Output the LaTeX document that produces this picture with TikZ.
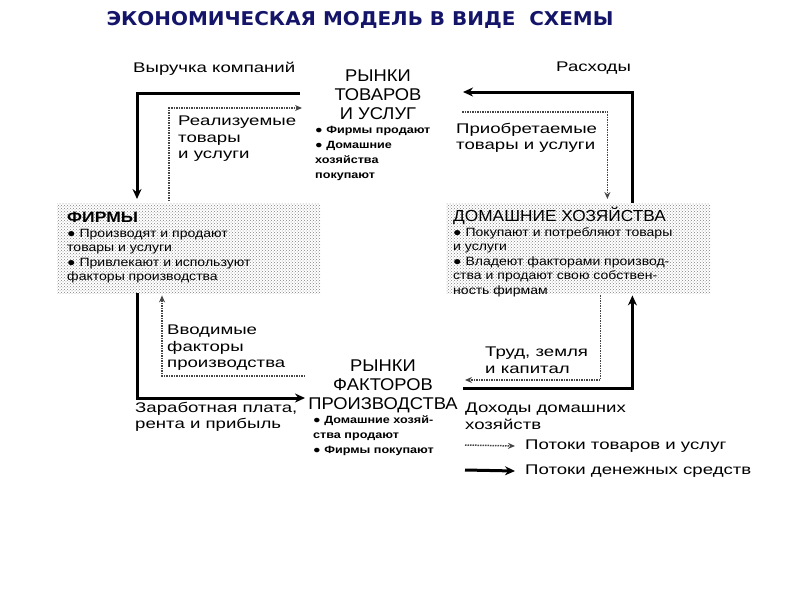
\documentclass[tikz,border=0pt]{standalone}
\usepackage{fontspec}
\setmainfont{Liberation Sans}
\newfontfamily\titlefont{DejaVu Sans}[FakeStretch=1.05]
\newfontfamily\lblfont{Liberation Sans}[FakeStretch=1.33]
\newfontfamily\mktfont{Liberation Sans}[FakeStretch=1.08]
\newfontfamily\notefont{Liberation Sans}[FakeStretch=1.2]
\newfontfamily\agfont{Liberation Sans}[FakeStretch=1.17]
\usetikzlibrary{positioning,calc,arrows.meta,patterns}
\definecolor{navy}{RGB}{20,20,105}
\tikzstyle{money}=[line width=3pt, -{Stealth[length=10pt,width=9pt]}]
\tikzstyle{goods}=[gray!55!black, densely dotted, line width=1.5pt, -{Stealth[length=7pt,width=6pt]}]
\tikzstyle{lbl}=[font=\lblfont\fontsize{14}{16.5}\selectfont, align=left, inner sep=0pt, anchor=north west]
\tikzstyle{mkt}=[font=\mktfont\fontsize{17}{19}\selectfont, align=center, inner sep=0pt]
\tikzstyle{note}=[font=\notefont\bfseries\fontsize{10.5}{15}\selectfont, align=left, inner sep=0pt, anchor=north west]
\tikzstyle{agent}=[pattern=crosshatch dots, pattern color=gray, anchor=north west,
		minimum height=90pt, inner sep=0pt]
\tikzstyle{agtext}=[font=\agfont\fontsize{12}{14.5}\selectfont, align=left, inner sep=0pt, anchor=north west]

\begin{document}
\begin{tikzpicture}[x=1pt,y=-1pt]
\useasboundingbox (0,0) rectangle (800,600);
% title
\node[font=\titlefont\bfseries\fontsize{19}{22}\selectfont, text=navy, anchor=base] (title) at (360,25)
	{ЭКОНОМИЧЕСКАЯ МОДЕЛЬ В ВИДЕ\ \ СХЕМЫ};
% sectors
\node[agent, minimum width=263pt] (firms) at (57,203) {};
\node[agent, minimum width=264pt] (homes) at (446,203) {};
\node[agtext] (firmstxt) at (67,212) {{\fontsize{15}{15}\selectfont\bfseries ФИРМЫ}\\
	● Производят и продают\\ товары и услуги\\ ● Привлекают и используют\\ факторы производства};
\node[agtext] (homestxt) at (453,207) {{\mktfont\fontsize{16}{16}\selectfont ДОМАШНИЕ ХОЗЯЙСТВА}\\
	● Покупают и потребляют товары\\ и услуги\\ ● Владеют факторами производ-\\
	ства и продают свою собствен-\\ ность фирмам};
% markets
\node[mkt, anchor=north] (tovmkt) at (378,70) {РЫНКИ\\ ТОВАРОВ\\ И УСЛУГ};
\node[note] (tovnote) at (315,126) {● Фирмы продают\\ ● Домашние\\ хозяйства\\ покупают};
\node[mkt, anchor=north] (facmkt) at (383,360) {РЫНКИ\\ ФАКТОРОВ\\ ПРОИЗВОДСТВА};
\node[note] (facnote) at (313,415) {● Домашние хозяй-\\ ства продают\\ ● Фирмы покупают};
% flow labels
\node[lbl] (revenue) at (133,62) {Выручка компаний};
\node[lbl] (spend) at (556,62) {Расходы};
\node[lbl] (sold) at (178,116) {Реализуемые\\ товары\\ и услуги};
\node[lbl] (bought) at (456,123) {Приобретаемые\\ товары и услуги};
\node[lbl] (inputs) at (167,325) {Вводимые\\ факторы\\ производства};
\node[lbl] (wages) at (135,402) {Заработная плата,\\ рента и прибыль};
\node[lbl] (labour) at (485,347) {Труд, земля\\ и капитал};
\node[lbl] (income) at (465,403) {Доходы домашних\\ хозяйств};
% flows
\coordinate (mtl) at (300,93);
\coordinate (gtl) at (302,108);
\coordinate (mbl) at (305,398);
\coordinate (gbl) at (305,376);
\coordinate (mtr) at (463,92);
\coordinate (gtr) at (462,112);
\coordinate (mbr) at (463,388);
\coordinate (gbr) at (465,380);
\draw[money, shorten >=4pt] (mtl) -| ($(firms.north west)+(80,0)$);
\draw[goods, shorten <=2pt] ($(firms.north west)+(112,0)$) |- (gtl);
\draw[money] ($(firms.south west)+(80,0)$) |- (mbl);
\draw[goods, shorten >=2pt] (gbl) -| ($(firms.south west)+(105,0)$);
\draw[money] ($(homes.north east)+(-78,0)$) |- (mtr);
\draw[goods, shorten >=4pt] (gtr) -| ($(homes.north east)+(-103,0)$);
\draw[money, shorten >=2pt] (mbr) -| ($(homes.south east)+(-78,0)$);
\draw[goods, shorten <=2pt] ($(homes.south east)+(-110,0)$) |- (gbr);
% legend
\node[lbl, anchor=west] (leggoods) at (525,446) {Потоки товаров и услуг};
\node[lbl, anchor=west] (legmoney) at (525,471) {Потоки денежных средств};
\coordinate (lg) at (465,445);
\coordinate (lm) at (465,470);
\draw[goods] (lg) -- ([xshift=-10pt]leggoods.west);
\draw[money] (lm) -- ([xshift=-10pt]legmoney.west);
\end{tikzpicture}
\end{document}
